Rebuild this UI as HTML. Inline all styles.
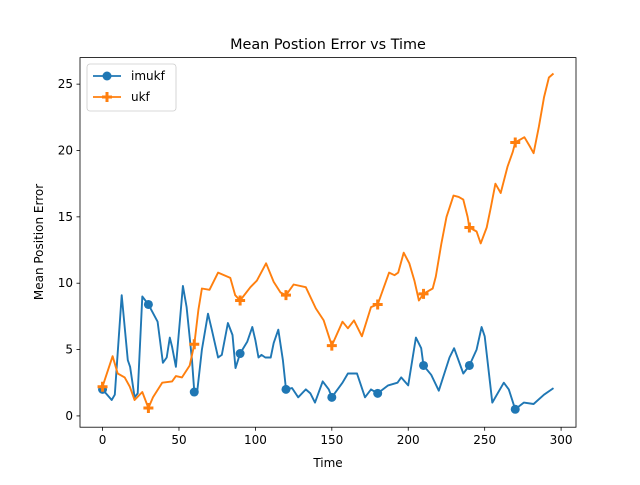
<!DOCTYPE html>
<html><head><meta charset="utf-8"><style>
body{margin:0;background:#fff}
svg{font-family:"DejaVu Sans","Liberation Sans",sans-serif}
</style></head><body>
<svg id="chart" width="640" height="480">
<rect width="640" height="480" fill="#fff"/>
<text x="328" y="49" font-size="14.4" text-anchor="middle">Mean Postion Error vs Time</text>
<g id="plot"></g>
<rect x="80" y="57.6" width="496" height="369.6" fill="none" stroke="#000" stroke-width="0.8"/>
<g id="xt"></g><g id="yt"></g>
<text x="328" y="467" font-size="12" text-anchor="middle">Time</text>
<text x="0" y="0" font-size="12" text-anchor="middle" transform="translate(43,242) rotate(-90)">Mean Position Error</text>
<g>
<rect x="87" y="64" width="89" height="47" rx="3" fill="#fff" fill-opacity="0.8" stroke="#ccc" stroke-width="0.8"/>
<g>
<line x1="93" y1="76" x2="121" y2="76" stroke="#1f77b4" stroke-width="1.8"/>
<circle cx="107" cy="76" r="4.5" fill="#1f77b4"/>
<text x="131" y="80" font-size="12">imukf</text></g>
<g>
<line x1="93" y1="97" x2="121" y2="97" stroke="#ff7f0e" stroke-width="1.8"/>
<path d="M107 92v10M102 97h10" stroke="#ff7f0e" stroke-width="3"/>
<text x="131" y="101" font-size="12">ukf</text></g>
</g>
</svg>
<script>
const imukfX=[0,6,8,12.5,16.5,18,21,23,26,30,36,39.5,42,44,45.5,48,52.6,55,58.5,60,62,65,69,71.5,75.6,78,82,85,87,90,94.7,98,100,102,104,106.5,110,112,115,118,120,124,128,133,136,139,144,148,150,157,160.5,166.5,171.7,175.6,180,186.8,193,195.4,200,205,208.5,210,215,220,227,230,236,240,244.7,248,250,255,262.5,265.8,270,275.6,282,288.8,295];
const imukfY=[2.0,1.2,1.6,9.1,4.2,3.7,1.4,1.7,9.0,8.4,7.1,4.0,4.4,5.9,5.2,3.7,9.8,8.2,4.2,1.8,1.9,5.0,7.7,6.5,4.4,4.6,7.0,6.1,3.6,4.7,5.6,6.7,5.7,4.4,4.6,4.4,4.4,5.5,6.5,4.2,2.0,2.1,1.4,2.0,1.7,1.0,2.6,2.0,1.4,2.5,3.2,3.2,1.4,2.0,1.7,2.3,2.5,2.9,2.3,5.9,5.1,3.8,3.1,1.9,4.4,5.1,3.2,3.8,5.0,6.7,6.0,1.0,2.5,2.0,0.5,1.0,0.9,1.6,2.1];
const ukfX=[0,6.6,9.9,14.5,17.8,21,26,30,33,39,45.5,48,52,57,60,62.7,65,70,75.6,83.6,86.8,90,96.7,101,107,112,116.4,120,125,133,139.5,144.7,150,157,160.5,164.5,169.7,175.6,180,187.5,191,193.4,197,200.7,204,207,210,216,218,221.7,225,229.6,233,236,238.8,240,244.7,247.4,251.3,254,257,260.5,265,268.4,270,276,279.6,282,285.5,288.8,292,295];
const ukfY=[2.2,4.5,3.2,2.9,2.2,1.2,1.8,0.6,1.4,2.5,2.6,3.0,2.9,3.8,5.4,8.0,9.6,9.5,10.8,10.4,9.1,8.7,9.7,10.2,11.5,10.1,9.3,9.1,9.9,9.7,8.1,7.2,5.3,7.1,6.6,7.2,6.0,8.2,8.4,10.8,10.6,10.8,12.3,11.5,10.2,8.7,9.2,9.6,10.5,13.0,15.0,16.6,16.5,16.3,15.0,14.2,13.9,13.0,14.2,15.7,17.5,16.8,18.8,19.9,20.6,21.0,20.3,19.8,21.8,24.0,25.5,25.8];
const markerX=[0,30,60,90,120,150,180,210,240,270];
const xTicks=[0,50,100,150,200,250,300];
const yTicks=[0,5,10,15,20,25];
const X0=80,X1=576,Y0=427.2,Y1=57.6,xmin=-14.75,xmax=309.75,ymin=-0.85,ymax=27.0;
const sx=v=>X0+(v-xmin)/(xmax-xmin)*(X1-X0);
const sy=v=>Y0-(v-ymin)/(ymax-ymin)*(Y0-Y1);
const NS='http://www.w3.org/2000/svg';
function interp(xs,ys,x){for(let i=0;i<xs.length-1;i++){if(x>=xs[i]&&x<=xs[i+1]){const t=(x-xs[i])/(xs[i+1]-xs[i]);return ys[i]+t*(ys[i+1]-ys[i]);}}return ys[ys.length-1];}
const plot=document.getElementById('plot');
function series(xs,ys,color,name,marker){
  const p=document.createElementNS(NS,'path');
  p.setAttribute('d',xs.map((x,i)=>(i?'L':'M')+sx(x).toFixed(1)+' '+sy(ys[i]).toFixed(1)).join(''));
  p.setAttribute('fill','none');p.setAttribute('stroke',color);p.setAttribute('stroke-width','1.9');p.setAttribute('stroke-linejoin','round');
  
  
  plot.appendChild(p);
  markerX.forEach(mx=>{
    const cx=sx(mx),cy=sy(interp(xs,ys,mx));let m;
    if(marker==='o'){m=document.createElementNS(NS,'circle');m.setAttribute('cx',cx);m.setAttribute('cy',cy);m.setAttribute('r',4.5);m.setAttribute('fill',color);}
    else{m=document.createElementNS(NS,'path');m.setAttribute('d',`M${cx} ${cy-5}v10M${cx-5} ${cy}h10`);m.setAttribute('stroke',color);m.setAttribute('stroke-width','3');}
    
    
    plot.appendChild(m);
  });
}
series(imukfX,imukfY,'#1f77b4','imukf','o');
series(ukfX,ukfY,'#ff7f0e','ukf','+');
const xt=document.getElementById('xt'),yt=document.getElementById('yt');
xTicks.forEach(v=>{const x=sx(v);
  const l=document.createElementNS(NS,'line');l.setAttribute('x1',x);l.setAttribute('x2',x);l.setAttribute('y1',Y0);l.setAttribute('y2',Y0+3.5);l.setAttribute('stroke','#000');l.setAttribute('stroke-width','0.8');
  
  
  xt.appendChild(l);
  const t=document.createElementNS(NS,'text');t.setAttribute('x',x);t.setAttribute('y',Y0+17);t.setAttribute('font-size','12');t.setAttribute('text-anchor','middle');t.textContent=v;
  
  
  xt.appendChild(t);});
yTicks.forEach(v=>{const y=sy(v);
  const l=document.createElementNS(NS,'line');l.setAttribute('x1',X0-3.5);l.setAttribute('x2',X0);l.setAttribute('y1',y);l.setAttribute('y2',y);l.setAttribute('stroke','#000');l.setAttribute('stroke-width','0.8');
  
  
  yt.appendChild(l);
  const t=document.createElementNS(NS,'text');t.setAttribute('x',X0-7);t.setAttribute('y',y+4);t.setAttribute('font-size','12');t.setAttribute('text-anchor','end');t.textContent=v;
  
  
  yt.appendChild(t);});
</script>
</body></html>
